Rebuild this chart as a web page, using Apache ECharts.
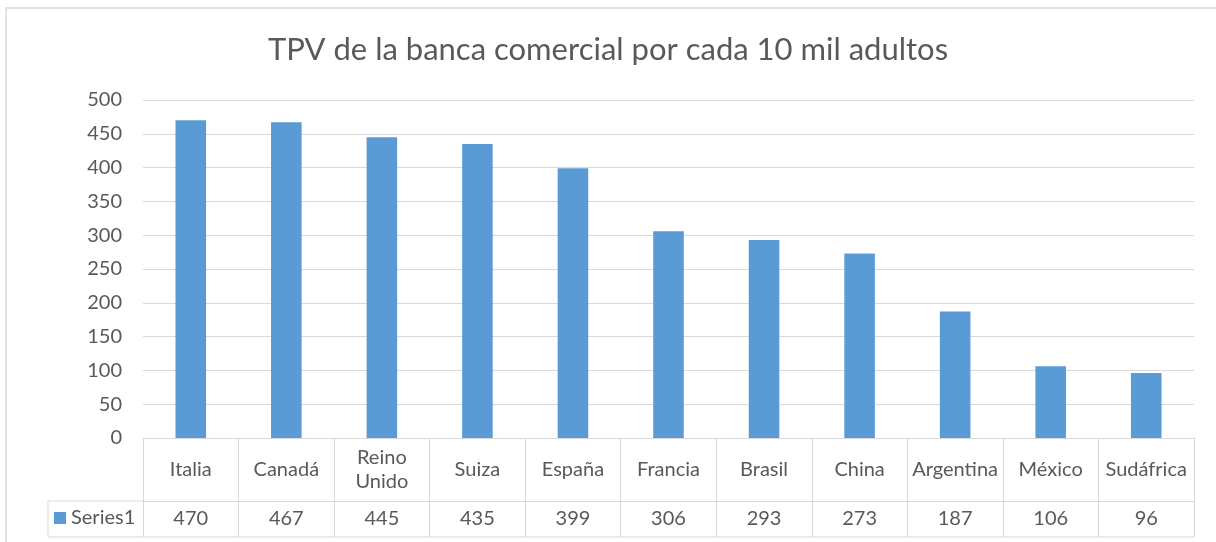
<!DOCTYPE html>
<html>
<head>
<meta charset="utf-8">
<script src="https://cdn.jsdelivr.net/npm/echarts@6/dist/echarts.min.js"></script>
<style>
  html, body { margin: 0; padding: 0; background: #ffffff; }
  #chart { width: 1216px; height: 542px; }
</style>
</head>
<body>
<div id="chart"></div>
<script>
// TPV (terminales punto de venta) de la banca comercial por cada 10 mil adultos
const titleText = 'TPV de la banca comercial por cada 10 mil adultos';
const seriesName = 'Series1';
const countries = ['Italia', 'Canadá', 'Reino\nUnido', 'Suiza', 'España', 'Francia', 'Brasil', 'China', 'Argentina', 'México', 'Sudáfrica'];
const tpvValues = [470, 467, 445, 435, 399, 306, 293, 273, 187, 106, 96];
const yTicks = { min: 0, max: 500, step: 50 };

const FONT = 'Lato, "Open Sans", sans-serif';
const TEXT = '#595959';
const LINE = '#D9D9D9';
const BAR = '#5B9BD5';
const LABEL_SIZE = 20;

// plot area and data-table geometry
const G = { left: 143, right: 22, top: 100, bottom: 104 };
const HEADER_H = 63;   // category row height
const VALUE_H = 36;    // value row height
const KEY_LEFT = 48;   // left edge of the legend-key cell

const chart = echarts.init(document.getElementById('chart'), null, { renderer: 'canvas' });
const W = 1216, H = 542;
const axisY = H - G.bottom;

chart.setOption({
  backgroundColor: '#ffffff',
  animation: false,
  title: {
    text: titleText,
    left: 'center',
    top: 29,
    textStyle: { fontFamily: FONT, fontSize: 31, fontWeight: 'normal', color: TEXT }
  },
  legend: {
    data: [seriesName],
    left: 54,
    top: axisY + HEADER_H + VALUE_H / 2 - 11,
    padding: 0,
    icon: 'rect',
    itemWidth: 12,
    itemHeight: 12,
    itemGap: 6,
    textStyle: { fontFamily: FONT, fontSize: LABEL_SIZE, color: TEXT, padding: [0, 0, 0, 0] },
    selectedMode: false
  },
  grid: { left: G.left, right: G.right, top: G.top, bottom: G.bottom, containLabel: false },
  xAxis: [
    {
      type: 'category',
      data: countries,
      position: 'bottom',
      axisLine: { show: true, lineStyle: { color: LINE, width: 1 } },
      axisTick: { show: true, alignWithLabel: false, length: HEADER_H + VALUE_H, lineStyle: { color: LINE, width: 1 } },
      axisLabel: {
        interval: 0,
        margin: HEADER_H / 2,
        verticalAlign: 'middle',
        lineHeight: 24,
        fontFamily: FONT, fontSize: LABEL_SIZE, color: TEXT
      },
      splitLine: { show: false }
    },
    {
      type: 'category',
      data: tpvValues.map(String),
      position: 'bottom',
      offset: HEADER_H,
      axisLine: { show: true, lineStyle: { color: LINE, width: 1 } },
      axisTick: { show: false },
      axisLabel: {
        interval: 0,
        margin: VALUE_H / 2,
        verticalAlign: 'middle',
        fontFamily: FONT, fontSize: LABEL_SIZE, color: TEXT
      }
    }
  ],
  yAxis: {
    type: 'value',
    min: yTicks.min,
    max: yTicks.max,
    interval: yTicks.step,
    axisLine: { show: false },
    axisTick: { show: false },
    axisLabel: { margin: 21, fontFamily: FONT, fontSize: LABEL_SIZE, color: TEXT },
    splitLine: { show: true, lineStyle: { color: LINE, width: 1 } }
  },
  series: [{
    name: seriesName,
    type: 'bar',
    data: tpvValues,
    xAxisIndex: 0,
    barWidth: '32%',
    itemStyle: { color: BAR }
  }],
  graphic: [
    // outer chart frame (cut by the right and bottom edges)
    {
      type: 'rect', silent: true, z: -1,
      shape: { x: 6, y: 8, width: W + 20, height: H + 20 },
      style: { fill: null, stroke: LINE, lineWidth: 1.5 }
    },
    // data-table lines around the legend-key cell and bottom edge
    {
      type: 'polyline', silent: true,
      shape: { points: [[G.left, axisY + HEADER_H], [KEY_LEFT, axisY + HEADER_H], [KEY_LEFT, axisY + HEADER_H + VALUE_H], [W - G.right, axisY + HEADER_H + VALUE_H]] },
      style: { fill: null, stroke: LINE, lineWidth: 1 }
    }
  ]
});
</script>
</body>
</html>
